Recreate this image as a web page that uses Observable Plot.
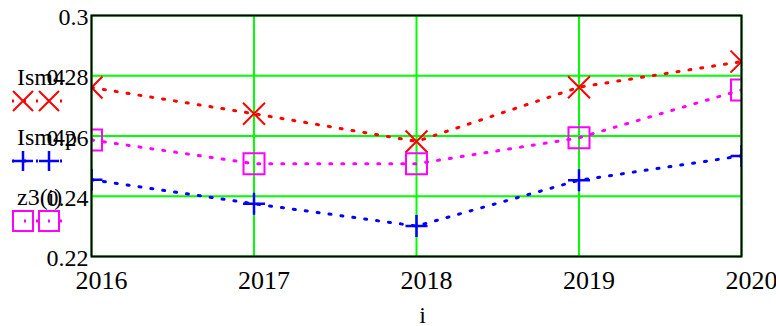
<!DOCTYPE html>
<html>
<head>
<meta charset="utf-8">
<script src="https://cdn.jsdelivr.net/npm/d3@7"></script>
<script src="https://cdn.jsdelivr.net/npm/@observablehq/plot@0.6"></script>
<style>
  html, body { margin: 0; padding: 0; background: #fff; }
  #chart svg { display: block; }
</style>
</head>
<body>
<div id="chart"></div>
<script>
// Values per year for the three traces
const years = [2016, 2017, 2018, 2019, 2020];
const ism4  = [0.2761, 0.2674, 0.2582, 0.2762, 0.2847];
const ism4p = [0.2455, 0.2375, 0.2301, 0.2453, 0.2534];
const z3    = [0.2587, 0.2508, 0.2508, 0.2594, 0.2753];
const seriesNames  = ["Ism4", "Ism4p", "z3(i)"];
const seriesColors = ["#ff0000", "#0000ff", "#ff00ff"];
const yTicks = [0.22, 0.24, 0.26, 0.28, 0.3];

// Marker shapes whose half-size equals the dot radius r
const half = size => Math.sqrt(size / Math.PI);
const timesSym = { draw(ctx, size) { const h = half(size);
  ctx.moveTo(-h, -h); ctx.lineTo(h, h); ctx.moveTo(h, -h); ctx.lineTo(-h, h); } };
const plusSym = { draw(ctx, size) { const h = half(size);
  ctx.moveTo(-h, 0); ctx.lineTo(h, 0); ctx.moveTo(0, -h); ctx.lineTo(0, h); } };
const squareSym = { draw(ctx, size) { const h = half(size);
  ctx.rect(-h, -h, 2 * h, 2 * h); } };
const symbols = [timesSym, plusSym, squareSym];
const radii = [11, 11, 10.5];
const markerWidths = [2, 2.5, 2];

const seriesValues = [ism4, ism4p, z3];
const rows = seriesValues.map((vals, s) =>
  years.map((yr, i) => ({ year: yr, value: vals[i], series: seriesNames[s] })));

const font = "Liberation Serif";

const marks = [
  Plot.gridX(years, { x: d => d, stroke: "#00ff00", strokeOpacity: 1, strokeWidth: 2 }),
  Plot.gridY(yTicks, { y: d => d, stroke: "#00ff00", strokeOpacity: 1, strokeWidth: 2 }),
];
rows.forEach((data, s) => {
  marks.push(Plot.line(data, {
    x: "year", y: "value", stroke: seriesColors[s], strokeWidth: 3,
    strokeDasharray: "2,10", clip: true
  }));
  marks.push(Plot.dot(data, {
    x: "year", y: "value", symbol: symbols[s], r: radii[s], fill: "none",
    stroke: seriesColors[s], strokeWidth: markerWidths[s], clip: true
  }));
});
marks.push(
  Plot.axisX(years, { tickSize: 0, tickPadding: 14, tickFormat: "d", fontSize: 26, dx: 10, label: null, fontFamily: font }),
  Plot.axisY(yTicks, { tickSize: 0, tickPadding: 3, tickFormat: d => String(+d.toFixed(2)), fontSize: 24, dy: 2, label: null, fontFamily: font }),
  Plot.text(["i"], { frameAnchor: "bottom", dx: 6, dy: 66, fontSize: 24, fill: "black", fontFamily: font }),
  Plot.frame({ stroke: "black", strokeWidth: 2 })
);

const chart = Plot.plot({
  width: 776,
  height: 326,
  marginLeft: 91,
  marginRight: 35,
  marginTop: 15,
  marginBottom: 70,
  style: { background: "#fff", color: "black" },
  x: { domain: [2016, 2020] },
  y: { domain: [0.22, 0.3] },
  marks
});

// Legend at the left: label, then a dotted sample with two markers
const svg = d3.select(chart);
const legend = svg.append("g")
  .attr("font-family", font)
  .attr("font-size", 24)
  .attr("text-anchor", "start");
seriesNames.forEach((name, s) => {
  const base = 85 + 60 * s;
  const my = 101 + 60 * s;
  legend.append("text").attr("x", 17).attr("y", base).attr("fill", "black").text(name);
  legend.append("line").attr("x1", 12).attr("x2", 62).attr("y1", my).attr("y2", my)
    .attr("stroke", seriesColors[s]).attr("stroke-width", 3).attr("stroke-dasharray", "2,10");
  [23, 49].forEach(mx => {
    legend.append("path")
      .attr("d", d3.symbol(symbols[s], Math.PI * 10 * 10)())
      .attr("transform", `translate(${mx},${my})`)
      .attr("fill", "none").attr("stroke", seriesColors[s]).attr("stroke-width", markerWidths[s]);
  });
});
// every label uses the serif face
svg.selectAll("text").attr("font-family", font).style("font-family", font);

document.getElementById("chart").appendChild(chart);
</script>
</body>
</html>
